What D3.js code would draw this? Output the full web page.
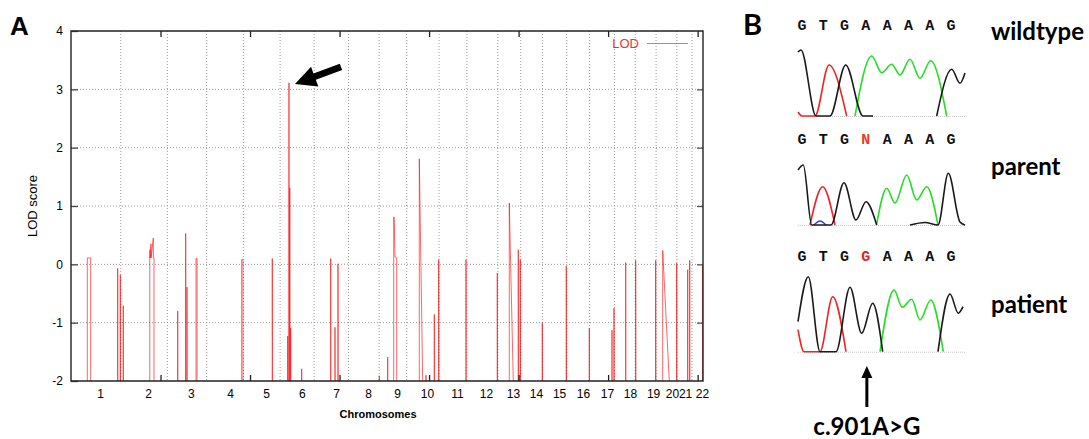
<!DOCTYPE html>
<html>
<head>
<meta charset="utf-8">
<script src="https://cdn.jsdelivr.net/npm/d3@7"></script>
<style>
  body { margin: 0; background: #fff; }
  svg { display: block; }
  .axis text { font-family: "Liberation Sans", Arial, sans-serif; font-size: 12px; fill: #000; }
  .grid line { stroke: #9a9a9a; stroke-width: 1; stroke-dasharray: 1 2; }
  .seq { font-family: "Liberation Mono", "Courier New", monospace; font-weight: bold; font-size: 15px; }
  .btext { font-family: Lato, "Open Sans", sans-serif; font-weight: bold; font-size: 24px; fill: #000; }
</style>
</head>
<body>
<svg id="fig"></svg>
<script>
// ---- panel A data (positions in cM, values are LOD) ----
const chromNames = d3.range(1, 23).map(String);
const chromLabelPos = [162, 430, 670, 888, 1089, 1290, 1480, 1659, 1821, 1988, 2156,
  2318, 2469, 2597, 2726, 2860, 2994, 3122, 3251, 3357, 3430, 3524];
const chromBounds = [278, 538, 758, 963, 1168, 1358, 1550, 1721, 1875, 2056, 2211,
  2384, 2512, 2633, 2769, 2896, 3035, 3151, 3268, 3384, 3468];
const yTicks = [-2, -1, 0, 1, 2, 3, 4];
const cmTicks = [0, 500, 1000, 1500, 2000, 2500, 3000, 3500];
// -3 = off the bottom of the scale
const lodPoints = [
  [0, -3],
  [91, -3], [91, 0.11], [110, 0.11], [110, -3],
  [260.8, -3], [260.8, -0.07], [261.4, -3],
  [275.4, -3], [275.4, -0.18], [276, -3],
  [292, -3], [292, -0.71], [292.6, -3],
  [440, -3], [440, 0.11], [441.2, 0.25], [442, 0.11], [446.8, 0.35], [447.5, 0.11],
  [459.7, 0.45], [460.3, 0.11], [463.6, 0.11], [463.6, -3],
  [596, -3], [596, -0.8], [596.6, -3],
  [640.6, -3], [640.6, 0.53], [641.3, -3],
  [647.9, -3], [647.9, -0.39], [648.5, -3],
  [698.2, -3], [698.2, 0.1], [703.8, 0.1], [703.8, -3],
  [953.4, -3], [953.4, 0.08], [960.7, 0.08], [960.7, -3],
  [1124.3, -3], [1124.3, 0.1], [1125, -3],
  [1210.3, -3], [1210.3, -1.23], [1211, -3],
  [1216.5, -3], [1216.5, 3.11], [1218.5, 3.11], [1218.5, -3],
  [1222, -3], [1222, 1.31], [1222.6, -3],
  [1227, -3], [1227, -1.09], [1227.6, -3],
  [1288.5, -3], [1288.5, -1.79], [1289.1, -3],
  [1450.5, -3], [1450.5, 0.1], [1451.1, -3],
  [1474.5, -3], [1474.5, -1.08], [1475.1, -3],
  [1491.3, -3], [1491.3, 0.01], [1492, -3],
  [1722, -3], [1722, -1.91], [1722.6, -3],
  [1768.9, -3], [1768.9, -1.59], [1769.5, -3],
  [1802.4, -3], [1802.4, 0.81], [1805, 0.81], [1809.7, 0.125], [1819.2, 0.11], [1819.2, -3],
  [1945.4, -3], [1945.4, 1.81], [1964.4, -2], [1964.4, -3],
  [1982.8, -3], [1982.8, -1.9], [1983.4, -3],
  [2029.2, -3], [2029.2, -0.86], [2029.8, -3],
  [2053.7, -3], [2053.7, 0.08], [2054.6, -3],
  [2206.2, -3], [2206.2, 0.08], [2206.8, -3],
  [2381, -3], [2381, -0.15], [2381.6, -3],
  [2448, -3], [2448, 1.05], [2470.4, -2], [2470.4, -3],
  [2498.3, -3], [2498.3, 0.25], [2498.9, -3],
  [2509.5, -3], [2509.5, 0.08], [2510.1, -3],
  [2632.4, -3], [2632.4, -1.0], [2633, -3],
  [2766.4, -3], [2766.4, -0.03], [2767, -3],
  [2894.9, -3], [2894.9, -1.09], [2895.5, -3],
  [3021.7, -3], [3021.7, -1.13], [3022.3, -3],
  [3032.9, -3], [3032.9, -0.75], [3033.5, -3],
  [3098.2, -3], [3098.2, 0.03], [3098.8, -3],
  [3154.1, -3], [3154.1, 0.07], [3154.7, -3],
  [3265.8, -3], [3265.8, 0.07], [3266.4, -3],
  [3304.9, -3], [3304.9, 0.24], [3341.8, -2], [3341.8, -3],
  [3383.1, -3], [3383.1, 0.02], [3383.7, -3],
  [3444.5, -3], [3444.5, -0.09], [3445.1, -3],
  [3455.7, -3], [3455.7, 0.07], [3456.3, -3],
  [3528, -3], [3528, -0.03], [3530, -3]
];
const peakPos = 1217.5;
const peakLod = 3.11;

// ---- panel B data (scan position, signal height) ----
const seqWildtype = ['G', 'T', 'G', 'A', 'A', 'A', 'A', 'G'];
const seqParent = ['G', 'T', 'G', 'N', 'A', 'A', 'A', 'G'];
const seqPatient = ['G', 'T', 'G', 'G', 'A', 'A', 'A', 'G'];
const sampleNames = ['wildtype', 'parent', 'patient'];

const wtBlack = [[[0, 64], [3, 66], [18, 0], [32, 0], [47.7, 51], [65, 0], [75, 0]],
  [[138.7, 0], [153.7, 46.7], [162, 32.7], [167, 43]]];
const wtRed = [[[0, 4], [4, 0], [17, 0], [31, 51], [48.7, 0]]];
const wtGreen = [[[57, 0], [73.7, 60], [83.7, 43.3], [93.7, 51.7], [102, 41], [112, 56.7],
  [122, 37.7], [132.7, 55.3], [148.7, 0]]];
const wtBlue = [];

const parBlack = [[[0, 55], [5.3, 60], [13.7, 0], [33, 0], [46, 42.3], [58, 5], [68, 23.3], [78.7, 0]],
  [[112, 0], [127, 2.5], [140, 0], [150.3, 51.7], [162, 3], [167, 0]]];
const parRed = [[[12, 0], [24.7, 38.3], [37, 0]]];
const parGreen = [[[78.7, 1], [88.7, 36.7], [97, 22], [108.7, 50], [118.7, 25], [128.7, 38.3], [140, 0]]];
const parBlue = [[[16, 0], [22, 4], [28, 0]]];

const patBlack = [[[0, 30], [10.3, 75], [22, 0], [38, 0], [52, 64.4], [63.7, 18.4], [74.7, 48.4], [84.7, 0]],
  [[140, 0], [152, 57.7], [160.3, 38.4], [165, 45]]];
const patRed = [[[0, 22], [6, 0], [22, 0], [34.7, 55], [48, 0]]];
const patGreen = [[[82, 0], [96, 61.7], [104.3, 44.4], [113.7, 52.4], [122, 31.7], [132.7, 51.7], [145.3, 0]]];
const patBlue = [];

const svg = d3.select('#fig').attr('width', 1089).attr('height', 439);

class LodChart {
  constructor(_svg) {
    this.svg = _svg;
    this.config = { left: 71, top: 31, width: 632, height: 350 };
    this.initVis();
  }

  initVis() {
    const vis = this;
    const c = vis.config;

    vis.x = d3.scaleLinear().domain([0, 3530]).range([c.left, c.left + c.width]);
    vis.y = d3.scaleLinear().domain([-2, 4]).range([c.top + c.height, c.top]);

    vis.svg.append('clipPath').attr('id', 'plot-clip')
      .append('rect')
      .attr('x', c.left).attr('y', c.top)
      .attr('width', c.width).attr('height', c.height);

    vis.renderVis();
  }

  renderVis() {
    const vis = this;
    const c = vis.config;
    const bottom = c.top + c.height;
    const right = c.left + c.width;

    // dotted grid
    const grid = vis.svg.append('g').attr('class', 'grid');
    grid.selectAll('.vg')
      .data(chromBounds)
      .join('line')
      .attr('x1', (d) => vis.x(d)).attr('x2', (d) => vis.x(d))
      .attr('y1', c.top).attr('y2', bottom);
    grid.selectAll('.hg')
      .data(yTicks.slice(1, -1))
      .join('line')
      .attr('x1', c.left).attr('x2', right)
      .attr('y1', (d) => vis.y(d)).attr('y2', (d) => vis.y(d));

    // LOD trace
    const line = d3.line().x((d) => vis.x(d[0])).y((d) => vis.y(d[1]));
    vis.svg.append('path')
      .datum(lodPoints)
      .attr('clip-path', 'url(#plot-clip)')
      .attr('d', line)
      .attr('fill', 'none')
      .attr('stroke', '#f00')
      .attr('stroke-opacity', 0.6)
      .attr('stroke-width', 1);

    // axes
    vis.svg.append('g')
      .attr('class', 'axis')
      .attr('transform', `translate(${c.left},0)`)
      .call(d3.axisLeft(vis.y).tickValues(yTicks).tickSize(-7).tickPadding(8)
        .tickFormat((d) => String(d)))
      .call((g) => g.select('.domain').remove())
      .call((g) => g.selectAll('.tick line').attr('stroke', '#444').attr('stroke-width', 1.3));

    vis.svg.append('g')
      .attr('class', 'axis')
      .attr('transform', `translate(${right},0)`)
      .call(d3.axisRight(vis.y).tickValues(yTicks.slice(1, -1)).tickSize(-6).tickFormat(''))
      .call((g) => g.select('.domain').remove())
      .call((g) => g.selectAll('.tick line').attr('stroke', '#555').attr('stroke-width', 1.3));

    vis.svg.append('g')
      .attr('class', 'axis')
      .attr('transform', `translate(0,${bottom})`)
      .call(d3.axisBottom(vis.x).tickValues(chromLabelPos).tickSize(0).tickPadding(8)
        .tickFormat((d, i) => chromNames[i]))
      .call((g) => g.select('.domain').remove());

    vis.svg.append('g')
      .attr('transform', `translate(0,${bottom})`)
      .call(d3.axisBottom(vis.x).tickValues(cmTicks.slice(1)).tickSize(-6).tickFormat(''))
      .call((g) => g.select('.domain').remove())
      .call((g) => g.selectAll('.tick line').attr('stroke', '#222').attr('stroke-width', 1.3));

    vis.svg.append('g')
      .attr('transform', `translate(0,${c.top})`)
      .call(d3.axisTop(vis.x).tickValues(cmTicks.slice(1)).tickSize(-6).tickFormat(''))
      .call((g) => g.select('.domain').remove())
      .call((g) => g.selectAll('.tick line').attr('stroke', '#222').attr('stroke-width', 1.3));

    // frame
    vis.svg.append('path')
      .attr('d', `M${c.left},${c.top}H${right}V${bottom}H${c.left}Z`)
      .attr('fill', 'none')
      .attr('stroke', '#222')
      .attr('stroke-width', 1.4);

    vis.svg.append('text')
      .attr('transform', `translate(37,${c.top + c.height / 2}) rotate(-90)`)
      .attr('text-anchor', 'middle')
      .style('font-family', '"Liberation Sans", Arial, sans-serif')
      .style('font-size', '13px')
      .text('LOD score');

    vis.svg.append('text')
      .attr('x', 378).attr('y', 418)
      .attr('text-anchor', 'middle')
      .style('font-family', '"Liberation Sans", Arial, sans-serif')
      .style('font-size', '11px')
      .style('font-weight', 'bold')
      .text('Chromosomes');

    // legend
    vis.svg.append('text')
      .attr('x', 639).attr('y', 48)
      .attr('text-anchor', 'end')
      .style('font-family', '"Liberation Sans", Arial, sans-serif')
      .style('font-size', '13px')
      .attr('fill', '#f03030')
      .text('LOD');
    vis.svg.append('line')
      .attr('x1', 647).attr('x2', 688).attr('y1', 43.5).attr('y2', 43.5)
      .attr('stroke', '#f03030').attr('stroke-opacity', 0.7).attr('stroke-width', 1);

    vis.renderArrow();

    vis.svg.append('text')
      .attr('x', 10).attr('y', 35)
      .style('font-family', '"Liberation Sans", Arial, sans-serif')
      .style('font-size', '26px')
      .style('font-weight', 'bold')
      .text('A');
  }

  /* Purpose: fat arrow pointing at the top peak */
  renderArrow() {
    const vis = this;
    const tip = [vis.x(peakPos) + 6, vis.y(peakLod) + 1];
    const dir = [46, -17];
    const len = Math.hypot(dir[0], dir[1]);
    const u = [dir[0] / len, dir[1] / len];
    const n = [-u[1], u[0]];
    const headLen = 21;
    const headW = 10.5;
    const shaftW = 3.4;
    const at = (a, b) => [tip[0] + u[0] * a + n[0] * b, tip[1] + u[1] * a + n[1] * b];
    const pts = [at(0, 0), at(headLen, headW), at(headLen, shaftW), at(len, shaftW),
      at(len, -shaftW), at(headLen, -shaftW), at(headLen, -headW)];
    vis.svg.append('path')
      .attr('d', `M${pts.map((p) => p.join(',')).join('L')}Z`)
      .attr('fill', '#000');
  }
}

class Chromatograms {
  constructor(_svg) {
    this.svg = _svg;
    this.rows = [
      { seq: seqWildtype, baseline: 116, seqY: 30, labelY: 40, black: wtBlack, red: wtRed, green: wtGreen, blue: wtBlue },
      { seq: seqParent, baseline: 225, seqY: 144, labelY: 175, black: parBlack, red: parRed, green: parGreen, blue: parBlue },
      { seq: seqPatient, baseline: 351.7, seqY: 260.5, labelY: 313, black: patBlack, red: patRed, green: patGreen, blue: patBlue }
    ];
    this.colors = { black: '#1a1a1a', red: '#f02424', green: '#22e022', blue: '#2a3cf0' };
    this.initVis();
  }

  initVis() {
    const vis = this;
    vis.x = d3.scaleLinear().domain([0, 167]).range([798, 965]);
    vis.seqX = d3.scalePoint().domain(d3.range(8)).range([802, 951]);
    vis.renderVis();
  }

  renderVis() {
    const vis = this;

    vis.rows.forEach((row, ri) => {
      const y = d3.scaleLinear().domain([0, 100]).range([row.baseline, row.baseline - 100]);
      const line = d3.line().x((d) => vis.x(d[0])).y((d) => y(d[1])).curve(d3.curveMonotoneX);

      vis.svg.append('line')
        .attr('x1', vis.x(0)).attr('x2', vis.x(167))
        .attr('y1', row.baseline + 0.5).attr('y2', row.baseline + 0.5)
        .attr('stroke', '#c8c8c8').attr('stroke-dasharray', '1 1');

      ['blue', 'red', 'green', 'black'].forEach((key) => {
        vis.svg.selectAll(null)
          .data(row[key])
          .join('path')
          .attr('d', line)
          .attr('fill', 'none')
          .attr('stroke', vis.colors[key])
          .attr('stroke-width', 1.6)
          .attr('stroke-linejoin', 'round');
      });

      vis.svg.selectAll(null)
        .data(row.seq)
        .join('text')
        .attr('class', 'seq')
        .attr('x', (d, i) => vis.seqX(i))
        .attr('y', row.seqY)
        .attr('text-anchor', 'middle')
        .attr('fill', (d, i) => (ri > 0 && i === 3 ? (d === 'N' ? '#e8401c' : '#e82020') : '#111'))
        .text((d) => d);

      vis.svg.append('text')
        .attr('class', 'btext')
        .attr('x', 991)
        .attr('y', row.labelY)
        .text(sampleNames[ri]);
    });

    // mutation arrow
    const ax = vis.seqX(3) + 1;
    vis.svg.append('line')
      .attr('x1', ax).attr('x2', ax).attr('y1', 407).attr('y2', 376)
      .attr('stroke', '#000').attr('stroke-width', 3);
    vis.svg.append('path')
      .attr('d', `M${ax},366L${ax - 5.5},378L${ax + 5.5},378Z`)
      .attr('fill', '#000');

    vis.svg.append('text')
      .attr('class', 'btext')
      .attr('x', ax)
      .attr('y', 435)
      .attr('text-anchor', 'middle')
      .text('c.901A>G');

    vis.svg.append('text')
      .attr('class', 'btext')
      .attr('x', 743)
      .attr('y', 35)
      .style('font-size', '29px')
      .text('B');
  }
}

new LodChart(svg);
new Chromatograms(svg);
</script>
</body>
</html>
